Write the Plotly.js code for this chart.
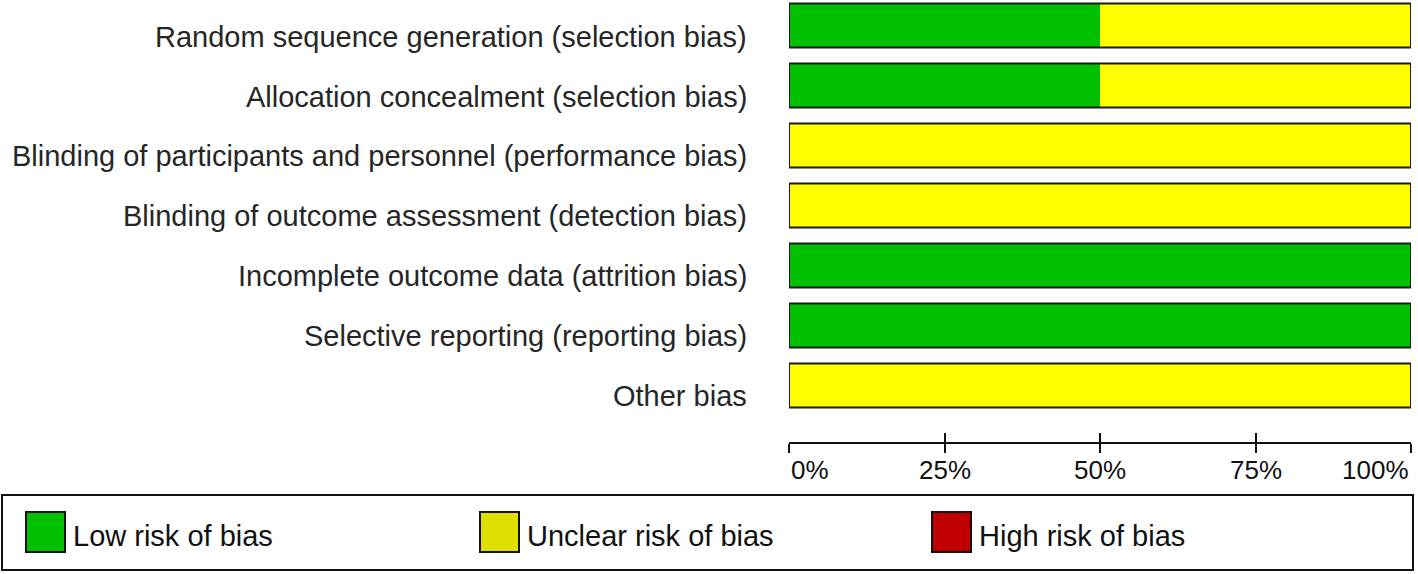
<!DOCTYPE html>
<html>
<head>
<meta charset="utf-8">
<script src="https://cdn.plot.ly/plotly-3.0.1.min.js"></script>
<style>
  html, body { margin: 0; padding: 0; background: #fff; }
  #plot { width: 1418px; height: 574px; }
</style>
</head>
<body>
<div id="plot"></div>
<script>
// risk of bias domains, top to bottom
var domains = [
  "Random sequence generation (selection bias)",
  "Allocation concealment (selection bias)",
  "Blinding of participants and personnel (performance bias)",
  "Blinding of outcome assessment (detection bias)",
  "Incomplete outcome data (attrition bias)",
  "Selective reporting (reporting bias)",
  "Other bias"
];
var lowRisk     = [50, 50, 0, 0, 100, 100, 0];
var unclearRisk = [50, 50, 100, 100, 0, 0, 100];
var highRisk    = [0, 0, 0, 0, 0, 0, 0];

var tickVals   = [0, 25, 50, 75, 100];
var tickLabels = ["0%", "25%", "50%", "75%", "100%"];

var legendNames  = ["Low risk of bias", "Unclear risk of bias", "High risk of bias"];
var legendColors = ["#00c000", "#e0e000", "#c00000"];

var GREEN = "#00c000", YELLOW = "#ffff00", RED = "#c00000";
var FONT = "Liberation Sans, Arial, sans-serif";

// plot area in pixels
var W = 1418, H = 574;
var L = 789, R = 7, T = 0, B = 132;
var pw = W - L - R, ph = H - T - B;
function px(x) { return (x - L) / pw; }
function py(y) { return (H - B - y) / ph; }

var lowBase = lowRisk.map(function () { return 0; });
var unclearBase = lowRisk.slice();
var highBase = lowRisk.map(function (v, i) { return v + unclearRisk[i]; });
var totals = lowRisk.map(function (v, i) { return v + unclearRisk[i] + highRisk[i]; });

var common = { type: "bar", orientation: "h", y: domains, width: 0.73, hoverinfo: "x+y", showlegend: false };

var traces = [
  Object.assign({}, common, { x: lowRisk, base: lowBase, name: "Low",
    marker: { color: GREEN, line: { width: 0 } } }),
  Object.assign({}, common, { x: unclearRisk, base: unclearBase, name: "Unclear",
    marker: { color: YELLOW, line: { width: 0 } } }),
  Object.assign({}, common, { x: highRisk, base: highBase, name: "High",
    marker: { color: RED, line: { width: 0 } } }),
  // outline round each whole row
  Object.assign({}, common, { x: totals, base: lowBase, name: "outline", hoverinfo: "skip",
    marker: { color: "rgba(0,0,0,0)", line: { color: "#1a1a1a", width: 2 } } }),
  // dummy trace so the second x axis (inner tick half) is drawn
  { type: "scatter", x: [0], y: [domains[0]], xaxis: "x2", mode: "markers",
    marker: { opacity: 0 }, hoverinfo: "skip", showlegend: false }
];

var shapes = [];
var annotations = [];

// domain labels, sitting a little below each bar's centre
domains.forEach(function (d) {
  annotations.push({
    x: px(749), xref: "paper", y: d, yref: "y", xanchor: "right", yanchor: "middle",
    yshift: -11, text: d, showarrow: false,
    font: { family: FONT, size: 29, color: "#262626" }
  });
});

// x tick labels: end labels sit inside the axis span
tickVals.forEach(function (v, i) {
  var anchor = i === 0 ? "left" : (i === tickVals.length - 1 ? "right" : "center");
  annotations.push({
    x: v, xref: "x", y: py(470), yref: "paper", yanchor: "middle", xanchor: anchor,
    text: tickLabels[i], showarrow: false,
    font: { family: FONT, size: 26, color: "#111" }
  });
});

// legend frame
shapes.push({ type: "rect", xref: "paper", yref: "paper",
  x0: px(2), x1: px(1413), y0: py(495), y1: py(570),
  line: { color: "#111", width: 2 }, fillcolor: "rgba(0,0,0,0)" });

var swatchX = [26, 480, 932];
legendNames.forEach(function (name, i) {
  shapes.push({ type: "rect", xref: "paper", yref: "paper",
    x0: px(swatchX[i]), x1: px(swatchX[i] + 39), y0: py(512), y1: py(552),
    line: { color: "#111", width: 2 }, fillcolor: legendColors[i] });
  annotations.push({ x: px(swatchX[i] + 45), xref: "paper", y: py(536), yref: "paper",
    xanchor: "left", yanchor: "middle", text: name, showarrow: false,
    font: { family: FONT, size: 29, color: "#111" } });
});

var layout = {
  width: W, height: H,
  margin: { l: L, r: R, t: T, b: B, pad: 0 },
  paper_bgcolor: "#fff", plot_bgcolor: "#fff",
  barmode: "overlay",
  font: { family: FONT, color: "#222" },
  xaxis: {
    range: [0, 100], tickvals: tickVals, showticklabels: false,
    ticks: "outside", ticklen: 9, tickwidth: 2, tickcolor: "#111",
    showline: true, linecolor: "#111", linewidth: 2,
    showgrid: false, zeroline: false, fixedrange: true
  },
  xaxis2: {
    overlaying: "x", anchor: "y", side: "bottom", matches: "x",
    range: [0, 100], tickvals: tickVals, showticklabels: false,
    ticks: "inside", ticklen: 9, tickwidth: 2, tickcolor: "#111",
    showline: false, showgrid: false, zeroline: false, fixedrange: true
  },
  yaxis: {
    type: "category", range: [6.942, -0.425],
    showline: false, showgrid: false, zeroline: false, ticks: "",
    showticklabels: false, fixedrange: true
  },
  shapes: shapes,
  annotations: annotations
};

Plotly.newPlot("plot", traces, layout, { displayModeBar: false, staticPlot: true });
</script>
</body>
</html>
